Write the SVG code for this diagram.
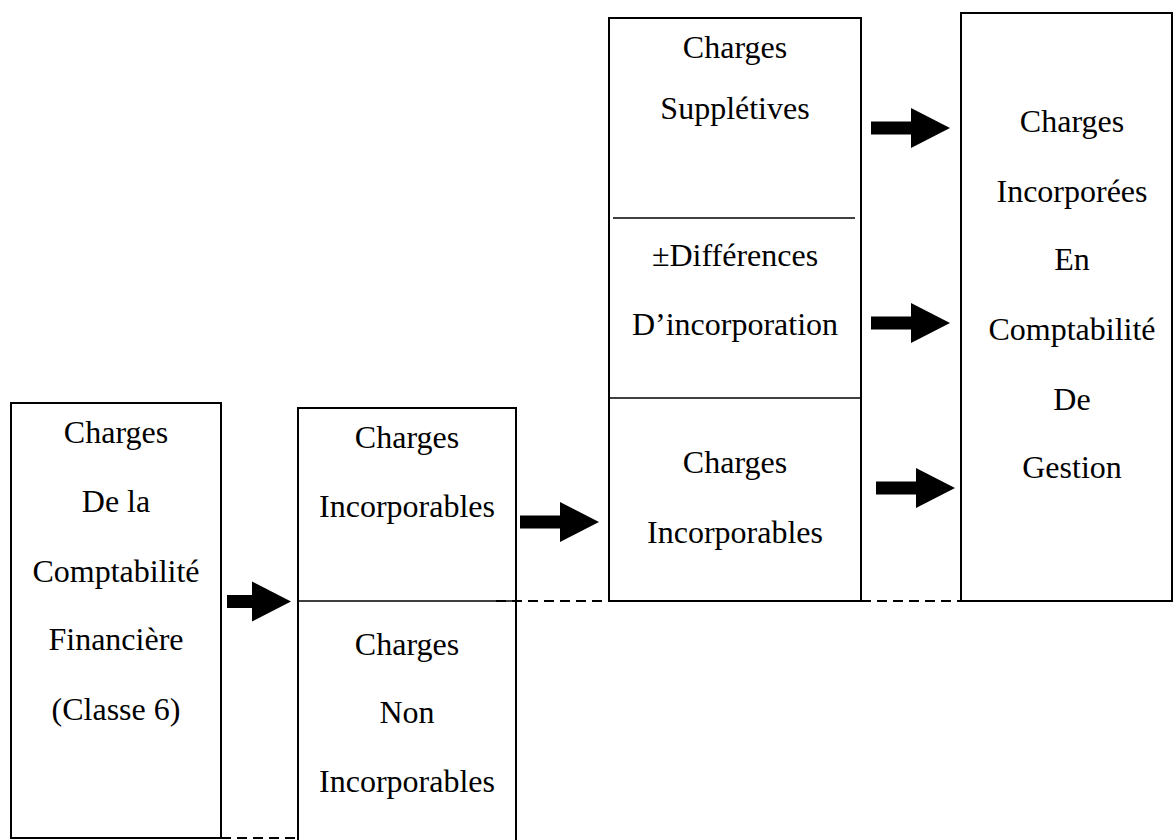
<svg xmlns="http://www.w3.org/2000/svg" width="1173" height="840" viewBox="0 0 1173 840">
  <style>
    .box { fill: #ffffff; stroke: #000000; stroke-width: 2; }
    .sep { stroke: #000000; stroke-width: 1.6; }
    .dash { stroke: #000000; stroke-width: 2; stroke-dasharray: 10 6; fill: none; }
    .arrow { fill: #000000; }
    text { font-family: "Liberation Serif", "Times New Roman", serif; font-size: 32px; fill: #000000; text-anchor: middle; }
  </style>
  <defs>
    <!-- block arrows pointing right, tip at origin -->
    <path id="arrowShort" d="M -64 -6.5 L -39 -6.5 L -39 -20 L 0 0 L -39 20 L -39 6.5 L -64 6.5 Z"/>
    <path id="arrowLong" d="M -79 -6.5 L -39 -6.5 L -39 -20 L 0 0 L -39 20 L -39 6.5 L -79 6.5 Z"/>
  </defs>

  <rect width="1173" height="840" fill="#ffffff"/>

  <!-- Comptabilité financière -->
  <g id="node-financiere">
    <rect class="box" x="11" y="403" width="210" height="435"/>
    <text x="116" y="443">Charges</text>
    <text x="116" y="512">De la</text>
    <text x="116" y="582">Comptabilité</text>
    <text x="116" y="650">Financière</text>
    <text x="116" y="720">(Classe 6)</text>
  </g>

  <!-- Incorporables / non incorporables -->
  <g id="node-tri">
    <rect class="box" x="298" y="408" width="218" height="440"/>
    <line class="sep" x1="298" y1="601" x2="516" y2="601"/>
    <text x="407" y="448">Charges</text>
    <text x="407" y="517">Incorporables</text>
    <text x="407" y="655">Charges</text>
    <text x="407" y="723">Non</text>
    <text x="407" y="792">Incorporables</text>
  </g>

  <!-- Charges supplétives, différences, incorporables -->
  <g id="node-composantes">
    <rect class="box" x="609" y="18" width="252" height="583"/>
    <line class="sep" x1="613" y1="218" x2="855" y2="218"/>
    <line class="sep" x1="609" y1="398" x2="861" y2="398"/>
    <text x="735" y="58">Charges</text>
    <text x="735" y="119">Supplétives</text>
    <text x="735" y="266">±Différences</text>
    <text x="735" y="335">D’incorporation</text>
    <text x="735" y="473">Charges</text>
    <text x="735" y="543">Incorporables</text>
  </g>

  <!-- Charges incorporées en comptabilité de gestion -->
  <g id="node-gestion">
    <rect class="box" x="961" y="13" width="211" height="588"/>
    <text x="1072" y="132">Charges</text>
    <text x="1072" y="202">Incorporées</text>
    <text x="1072" y="270">En</text>
    <text x="1072" y="340">Comptabilité</text>
    <text x="1072" y="410">De</text>
    <text x="1072" y="478">Gestion</text>
  </g>

  <g id="connectors">
    <line class="dash" x1="221" y1="838" x2="298" y2="838"/>
    <line class="dash" x1="496" y1="601" x2="609" y2="601"/>
    <line class="dash" x1="861" y1="601" x2="961" y2="601"/>
    <use href="#arrowShort" class="arrow" x="291" y="601.5"/>
    <use href="#arrowLong" class="arrow" x="599" y="522"/>
    <use href="#arrowLong" class="arrow" x="950" y="128"/>
    <use href="#arrowLong" class="arrow" x="950" y="323"/>
    <use href="#arrowLong" class="arrow" x="955" y="488"/>
  </g>
</svg>
